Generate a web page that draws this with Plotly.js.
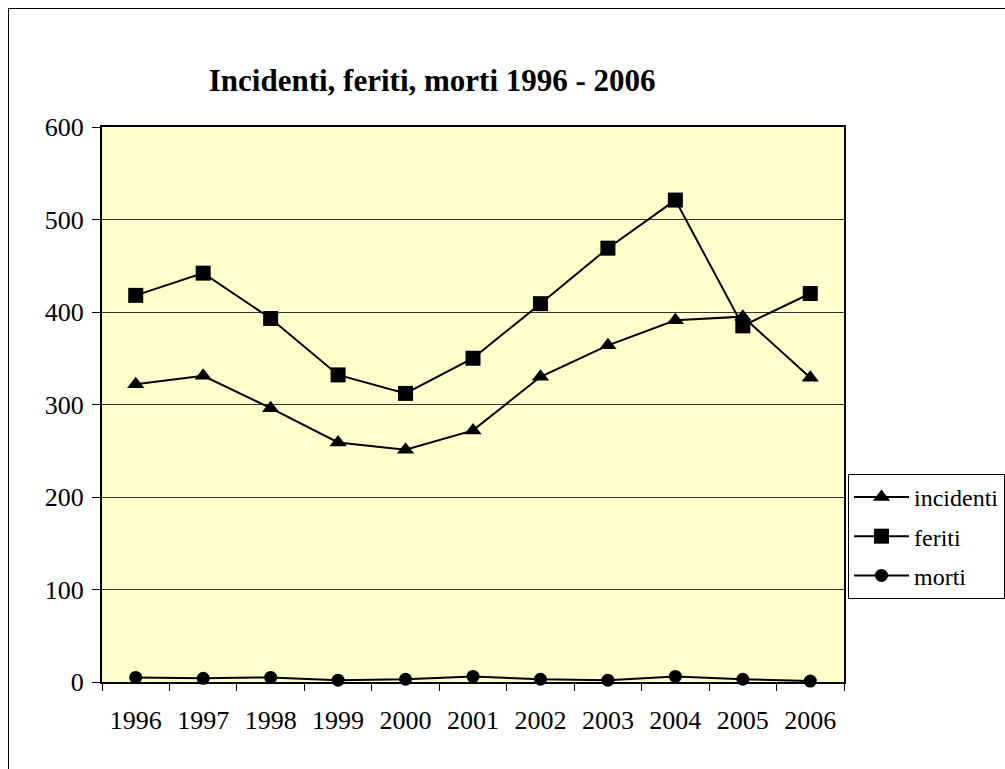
<!DOCTYPE html>
<html>
<head>
<meta charset="utf-8">
<script src="https://cdn.plot.ly/plotly-3.0.1.min.js"></script>
<style>
html,body{margin:0;padding:0;background:#fff;}
#frame{position:absolute;left:8px;top:8px;width:1200px;height:1000px;border-left:1px solid #000;border-top:1px solid #000;pointer-events:none;z-index:10;}
#chart{position:absolute;left:0;top:0;width:1005px;height:769px;}
</style>
</head>
<body>
<div id="chart"></div>
<div id="frame"></div>
<script>
const years = ['1996','1997','1998','1999','2000','2001','2002','2003','2004','2005','2006'];
const incidenti = [322, 331, 296, 259, 251, 272, 330, 364, 391, 395, 329];
const feriti = [418, 442, 393, 332, 312, 350, 409, 469, 521, 385, 420];
const morti = [5, 4, 5, 2, 3, 6, 3, 2, 6, 3, 1];

const font = 'Liberation Serif, Times New Roman, serif';
function tr(name, y, symbol, size) {
  return {
    type: 'scatter', mode: 'lines+markers', name: name, legendgroup: name,
    x: years, y: y,
    line: {color: '#000', width: 2},
    marker: {symbol: symbol, size: size, color: '#000'},
    cliponaxis: false
  };
}
const data = [
  tr('incidenti', incidenti, 'triangle-up', 15),
  tr('feriti', feriti, 'square', 15),
  tr('morti', morti, 'circle', 13)
];
const layout = {
  width: 1005, height: 769,
  margin: {l: 102, r: 161, t: 127, b: 87, autoexpand: false},
  paper_bgcolor: '#fff',
  plot_bgcolor: '#FFFFCC',
  font: {family: font, size: 26, color: '#000'},
  title: {text: '<b>Incidenti, feriti, morti 1996 - 2006</b>', font: {family: font, size: 31, color: '#000'},
    x: 0.445, xanchor: 'center', xref: 'paper', y: 0.896, yanchor: 'middle'},
  xaxis: {type: 'category', range: [-0.5, 10.5], tickson: 'boundaries', ticks: 'outside', ticklen: 7,
    tickcolor: '#000', showgrid: false, showline: true, linecolor: '#000', linewidth: 2, mirror: true,
    tickfont: {family: font, size: 26}, ticklabelstandoff: 14, zeroline: false},
  yaxis: {range: [0, 600], dtick: 100, ticks: 'outside', ticklen: 8, tickcolor: '#000',
    showgrid: true, gridcolor: '#333', gridwidth: 1, showline: true, linecolor: '#000', linewidth: 2, mirror: true,
    tickfont: {family: font, size: 26}, ticklabelstandoff: 3, zeroline: false},
  showlegend: true,
  legend: {x: 1.0054, xanchor: 'left', y: 0.375, yanchor: 'top', bordercolor: '#000', borderwidth: 1,
    bgcolor: '#fff', font: {family: font, size: 24}, tracegroupgap: 5, itemwidth: 55}
};
Plotly.newPlot('chart', data, layout, {displayModeBar: false});
</script>
</body>
</html>
